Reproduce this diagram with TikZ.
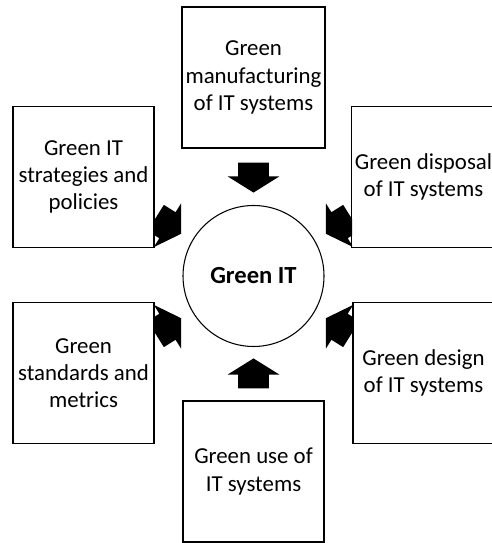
\documentclass[tikz,border=0pt]{standalone}
\usepackage{fontspec}
\setmainfont{Carlito}
\usetikzlibrary{shapes.arrows}

\begin{document}
\begin{tikzpicture}[
  every node/.style={font=\fontsize{13}{15.5}\selectfont},
  topic/.style={draw, line width=0.6pt, minimum size=2.82cm, align=center, inner sep=2pt},
  hub/.style={draw, circle, line width=0.6pt, minimum size=2.82cm, font=\fontsize{14}{16}\selectfont\bfseries},
  push/.style={single arrow, fill=black, draw=none, inner xsep=0pt, inner ysep=0.3cm,
    minimum height=0.6cm, minimum width=0pt, single arrow head extend=0.21cm,
    single arrow tip angle=116, anchor=tip},
]
  \useasboundingbox (0,0) rectangle (9.82,10.86);

  \node[hub] (git) at (5.07, 5.34) {Green IT};

  \node[topic] (manuf) at (5.07, 9.31) {Green\\manufacturing\\of IT systems};
  \node[topic] (strat) at (1.67, 7.32) {Green IT\\strategies and\\policies};
  \node[topic] (disp) at (8.47, 7.32) {Green disposal\\of IT systems};
  \node[topic] (stand) at (1.67, 3.40) {Green\\standards and\\metrics};
  \node[topic] (design) at (8.47, 3.40) {Green design\\of IT systems};
  \node[topic] (use) at (5.07, 1.43) {Green use of\\IT systems};

  \node[push, rotate=-90] (amanuf) at (5.07, 7.00) {};
  \node[push, rotate=90] (ause) at (5.07, 3.70) {};
  \begin{scope}
    \clip (3.10, 3.5) rectangle (3.67, 7.2);
    \node[push, rotate=-32] (astrat) at (3.63, 6.18) {};
    \node[push, rotate=32] (astand) at (3.63, 4.50) {};
  \end{scope}
  \begin{scope}
    \clip (6.48, 3.5) rectangle (7.04, 7.2);
    \node[push, rotate=212] (adisp) at (6.51, 6.18) {};
    \node[push, rotate=148] (adesign) at (6.51, 4.50) {};
  \end{scope}
\end{tikzpicture}
\end{document}
